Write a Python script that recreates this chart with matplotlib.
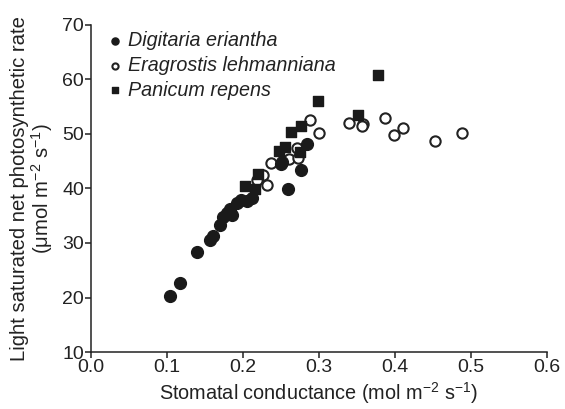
import matplotlib
matplotlib.use("Agg")
import matplotlib.pyplot as plt

plt.rcParams['font.family'] = ['Liberation Sans', 'DejaVu Sans']
plt.rcParams['mathtext.fontset'] = 'custom'
plt.rcParams['mathtext.rm'] = 'Liberation Sans'
plt.rcParams['mathtext.it'] = 'Liberation Sans:italic'

# Digitaria eriantha (filled circles)
dig_x = [0.104, 0.117, 0.140, 0.157, 0.160, 0.170, 0.174, 0.179, 0.185, 0.183,
         0.192, 0.198, 0.205, 0.212, 0.259, 0.250, 0.277, 0.284, 0.251]
dig_y = [20.3, 22.7, 28.3, 30.6, 31.2, 33.3, 34.8, 35.5, 35.1, 36.3,
         37.3, 37.8, 37.7, 38.2, 39.8, 44.4, 43.3, 48.2, 44.9]

# Eragrostis lehmanniana (open circles)
era_x = [0.288, 0.300, 0.340, 0.358, 0.357, 0.387, 0.399, 0.411, 0.453, 0.488,
         0.271, 0.260, 0.273, 0.237, 0.227, 0.218, 0.232]
era_y = [52.5, 50.2, 51.9, 51.7, 51.5, 52.9, 49.8, 51.1, 48.6, 50.2,
         47.3, 45.3, 45.5, 44.7, 42.4, 41.6, 40.7]

# Panicum repens (filled squares)
pan_x = [0.299, 0.276, 0.263, 0.255, 0.248, 0.275, 0.220, 0.203, 0.216, 0.378, 0.352]
pan_y = [56.0, 51.4, 50.3, 47.6, 46.8, 46.7, 42.6, 40.4, 39.8, 60.7, 53.4]

xticks = [0.0, 0.1, 0.2, 0.3, 0.4, 0.5, 0.6]
yticks = [10, 20, 30, 40, 50, 60, 70]

fig = plt.figure(figsize=(5.65, 4.09), dpi=100)
ax = fig.add_axes([0.161, 0.139, 0.807, 0.801])

ax.scatter(era_x, era_y, s=55, facecolors='white', edgecolors='#222222',
           linewidths=1.5, zorder=2, label='Eragrostis lehmanniana')
ax.scatter(pan_x, pan_y, s=55, marker='s', color='#1a1a1a', zorder=3,
           label='Panicum repens')
ax.scatter(dig_x, dig_y, s=72, color='#1a1a1a', zorder=4,
           label='Digitaria eriantha')

ax.set_xlim(0, 0.6)
ax.set_ylim(10, 70)
ax.set_xticks(xticks)
ax.set_yticks(yticks)
ax.set_xticklabels([f"{v:.1f}" for v in xticks])
ax.set_yticklabels([str(v) for v in yticks])
for s in ['top', 'right']:
    ax.spines[s].set_visible(False)
for s in ['left', 'bottom']:
    ax.spines[s].set_linewidth(1.1)
    ax.spines[s].set_color('#222222')
ax.tick_params(direction='out', length=4, width=1.1, labelsize=14,
               colors='#222222', pad=1)

ax.set_xlabel(r'Stomatal conductance (mol m$^{-2}$ s$^{-1}$)', fontsize=14.3,
              color='#222222', labelpad=3)
ax.set_ylabel('Light saturated net photosynthetic rate\n' + r'($\mathrm{\mu}$mol m$^{-2}$ s$^{-1}$)',
              fontsize=14.6, color='#222222', labelpad=5, linespacing=1.0)

h, l = ax.get_legend_handles_labels()
order = [2, 0, 1]
leg = ax.legend([h[i] for i in order], [l[i] for i in order], loc='upper left',
                bbox_to_anchor=(0.0, 1.015), frameon=False, handletextpad=0.1,
                borderaxespad=0.2, labelspacing=0.28, markerscale=0.6,
                prop={'style': 'italic', 'size': 14.2}, handlelength=1.2)
for t in leg.get_texts():
    t.set_color('#222222')

fig.savefig('out.png', dpi=100)
